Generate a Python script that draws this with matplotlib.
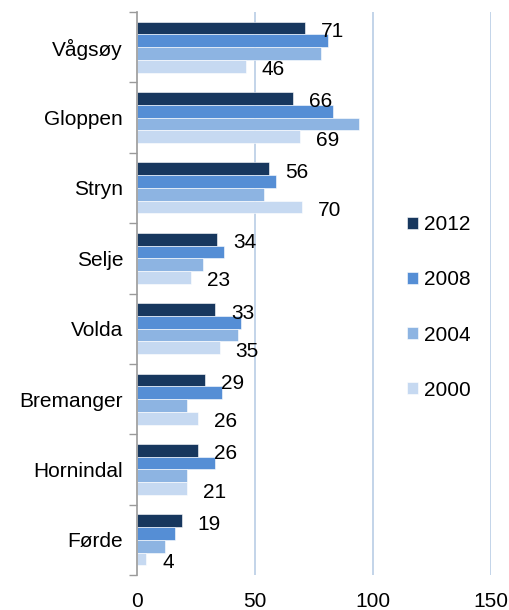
import matplotlib.pyplot as plt
import numpy as np

plt.rcParams['font.family'] = ['Liberation Sans', 'DejaVu Sans']

# Data
kommuner = ["Vågsøy", "Gloppen", "Stryn", "Selje", "Volda", "Bremanger", "Hornindal", "Førde"]
years = ["2012", "2008", "2004", "2000"]
v2012 = [71, 66, 56, 34, 33, 29, 26, 19]
v2008 = [81, 83, 59, 37, 44, 36, 33, 16]
v2004 = [78, 94, 54, 28, 43, 21, 21, 12]
v2000 = [46, 69, 70, 23, 35, 26, 21, 4]
colors = ["#17375E", "#558ED5", "#8DB4E2", "#C6D9F1"]

fig = plt.figure(figsize=(5.09, 6.10), dpi=100)
ax = fig.add_axes([137 / 509, 1 - 575 / 610, (491 - 137) / 509, (575 - 12) / 610])

y = np.arange(len(kommuner))
h = 0.181
series = [v2012, v2008, v2004, v2000]
for i, (vals, c, yr) in enumerate(zip(series, colors, years)):
    ax.barh(y - 1.5 * h + i * h, vals, height=h, color=c, label=yr,
            edgecolor="white", linewidth=0.4, zorder=3)

# value labels for 2012 and 2000
for k in range(len(kommuner)):
    for i, vals in [(0, v2012), (3, v2000)]:
        ax.annotate(str(vals[k]), xy=(vals[k], y[k] - 1.5 * h + i * h),
                    xytext=(11.5, -2.5), textcoords="offset points",
                    ha="left", va="center", fontsize=15, color="black")

ax.set_xlim(0, 150)
ax.set_ylim(len(kommuner) - 0.5, -0.5)
ax.set_xticks([0, 50, 100, 150])
ax.set_yticks(y)
ax.set_yticklabels(kommuner)
ax.set_yticks(np.arange(-0.5, len(kommuner)), minor=True)
ax.tick_params(axis="y", which="major", length=0, pad=10, labelsize=15)
ax.tick_params(axis="y", which="minor", length=6, color="#9A9A9A", width=1)
ax.tick_params(axis="x", length=0, pad=12, labelsize=15)

for v in [50, 100, 150]:
    ax.axvline(v, color="#B9CDE5", linewidth=1.2, zorder=1)

for s in ["top", "right", "bottom"]:
    ax.spines[s].set_visible(False)
ax.spines["left"].set_color("#9A9A9A")
ax.spines["left"].set_linewidth(1.2)
ax.spines["left"].set_zorder(4)

leg = ax.legend(loc="center left", bbox_to_anchor=(397 / 509, 1 - 307.5 / 610),
                bbox_transform=fig.transFigure, frameon=False, fontsize=15,
                handlelength=0.5, handleheight=0.5, handletextpad=0.3,
                labelspacing=1.73, borderpad=0)

plt.savefig("out.png", dpi=100)
